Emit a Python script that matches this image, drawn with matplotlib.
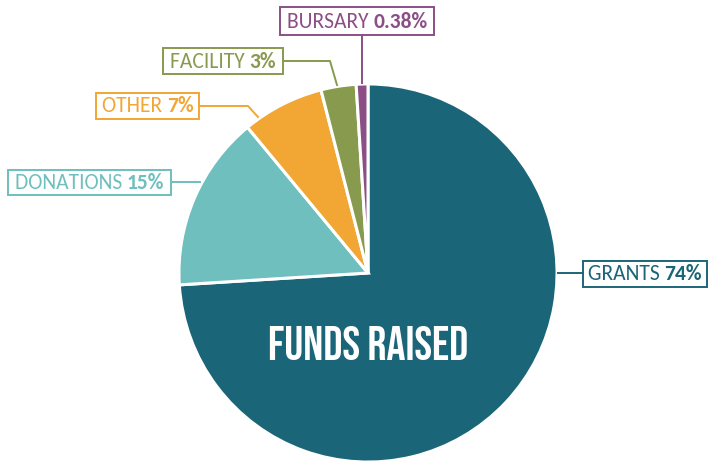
import matplotlib
matplotlib.use('Agg')
import matplotlib.pyplot as plt
from matplotlib.patches import Rectangle
from matplotlib.lines import Line2D

W, H = 709, 466

# data
categories = ['GRANTS', 'DONATIONS', 'OTHER', 'FACILITY', 'BURSARY']
# wedge sizes as drawn (the bursary wedge is drawn at roughly 1%)
values = [74, 15, 7, 3, 1]
pct_labels = ['74%', '15%', '7%', '3%', '0.38%']
colors = ['#1b6578', '#6ebfbd', '#f2a634', '#879a4d', '#8b4f86']

# label layout in pixels (top-left origin): box (x0, y0, x1, y1) and leader path
boxes = {
    'GRANTS':    (583, 261, 707, 287),
    'DONATIONS': (8, 170, 171, 195),
    'OTHER':     (96, 93, 199, 119),
    'FACILITY':  (163, 48, 283, 74),
    'BURSARY':   (280, 7, 434, 35),
}
leaders = {
    'GRANTS':    [(558, 273), (583, 273)],
    'DONATIONS': [(171, 182), (200, 182)],
    'OTHER':     [(199, 106), (248, 106), (258, 117)],
    'FACILITY':  [(283, 61), (330, 61), (337, 85)],
    'BURSARY':   [(362, 35), (362, 83)],
}

LABEL_FONT = ['Carlito', 'DejaVu Sans']
TITLE_FONT = ['Bebas Neue', 'DejaVu Sans']


def px(x, y):
    return x / W, 1 - y / H


fig = plt.figure(figsize=(W / 100, H / 100), dpi=100)
fig.patch.set_facecolor('white')

cx, cy, r = 368, 273, 190
ax = fig.add_axes([(cx - r) / W, (H - cy - r) / H, 2 * r / W, 2 * r / H])
ax.pie(values, colors=colors, startangle=90, counterclock=False, radius=1,
       wedgeprops=dict(edgecolor='white', linewidth=2.2))
ax.set_xlim(-1.005, 1.005)
ax.set_ylim(-1.005, 1.005)
ax.set_aspect('auto')
ax.axis('off')

ax.text(0, -0.37, 'FUNDS RAISED', ha='center', va='center', color='white',
        fontsize=34, family=TITLE_FONT)

fig.canvas.draw()
renderer = fig.canvas.get_renderer()

for cat, pct, col in zip(categories, pct_labels, colors):
    x0, y0, x1, y1 = boxes[cat]
    fig.add_artist(Rectangle(px(x0, y1), (x1 - x0) / W, (y1 - y0) / H,
                             transform=fig.transFigure, fill=False,
                             edgecolor=col, linewidth=1.4))
    pts = leaders[cat]
    fig.add_artist(Line2D([px(*p)[0] for p in pts], [px(*p)[1] for p in pts],
                          transform=fig.transFigure, color=col, linewidth=1.4))
    ym = (y0 + y1) / 2
    t1 = fig.text(0, 0, cat + ' ', fontsize=15.5, color=col, family=LABEL_FONT,
                  va='center')
    t2 = fig.text(0, 0, pct, fontsize=15.5, color=col, family=LABEL_FONT,
                  fontweight='bold', va='center')
    w1 = t1.get_window_extent(renderer).width
    w2 = t2.get_window_extent(renderer).width
    left = (x0 + x1) / 2 - (w1 + w2) / 2
    t1.set_position(px(left, ym + 0.5))
    t2.set_position(px(left + w1, ym + 0.5))

fig.savefig('out.png', dpi=100)
